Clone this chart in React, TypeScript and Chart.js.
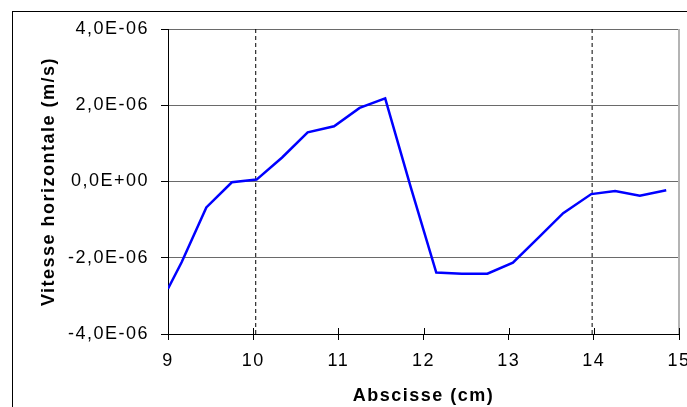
import React, { useEffect, useRef } from "react";
import { Chart, registerables } from "chart.js";

Chart.register(...registerables);

// Abscissa (cm)
const abscisses = [9.0, 9.16, 9.45, 9.75, 10.04, 10.34, 10.64, 10.95, 11.25, 11.55, 11.85, 12.15, 12.45, 12.75, 13.05, 13.35, 13.64, 13.97, 14.25, 14.54, 14.85];
// Horizontal speed (m/s)
const vitesses = [-2.81e-6, -2.12e-6, -0.68e-6, -0.02e-6, 0.05e-6, 0.63e-6, 1.29e-6, 1.45e-6, 1.93e-6, 2.18e-6, -0.15e-6, -2.39e-6, -2.42e-6, -2.42e-6, -2.13e-6, -1.47e-6, -0.83e-6, -0.33e-6, -0.25e-6, -0.37e-6, -0.23e-6];
// Dashed vertical markers (cm)
const reperes = [10.03, 13.98];
// Axis ranges
const xMin = 9, xMax = 15, xStep = 1;
const yMin = -4e-6, yMax = 4e-6, yStep = 2e-6;

const FONT = "Arial, 'Liberation Sans', sans-serif";
const SPACING = "1.5px";

function fmtSci(v: number): string {
  if (Math.abs(v) < 1e-12) return "0,0E+00";
  const exp = Math.floor(Math.log10(Math.abs(v)) + 1e-9);
  const mant = v / Math.pow(10, exp);
  const sign = exp < 0 ? "-" : "+";
  const e = String(Math.abs(exp)).padStart(2, "0");
  return mant.toFixed(1).replace(".", ",") + "E" + sign + e;
}

const decorPlugin = {
  id: "decor",
  beforeUpdate(chart: any) {
    chart.ctx.letterSpacing = SPACING;
  },
  beforeDraw(chart: any) {
    const ctx = chart.ctx;
    ctx.letterSpacing = SPACING;
    ctx.save();
    ctx.strokeStyle = "#000";
    ctx.lineWidth = 1;
    ctx.strokeRect(12.5, 11.5, 800, 600);
    ctx.restore();
  },
  beforeDatasetsDraw(chart: any) {
    const { ctx, chartArea } = chart;
    ctx.save();
    ctx.strokeStyle = "#b4b4b4";
    ctx.lineWidth = 2;
    ctx.beginPath();
    ctx.moveTo(chartArea.right, chartArea.top);
    ctx.lineTo(chartArea.right, chartArea.bottom);
    ctx.stroke();
    const xs = chart.scales.x;
    ctx.strokeStyle = "#000";
    ctx.lineWidth = 1;
    ctx.beginPath();
    for (const t of xs.ticks) {
      const px = Math.round(xs.getPixelForValue(t.value)) + 0.5;
      ctx.moveTo(px, chartArea.bottom - 6);
      ctx.lineTo(px, chartArea.bottom);
    }
    ctx.stroke();
    ctx.restore();
  },
};

export default function App() {
  const ref = useRef<HTMLCanvasElement | null>(null);
  useEffect(() => {
    if (!ref.current) return;
    const main = abscisses.map((x, i) => ({ x, y: vitesses[i] }));
    const dashed = reperes.map((x) => ({
      label: "repere",
      data: [
        { x, y: yMin },
        { x, y: yMax },
      ],
      borderColor: "#000",
      borderWidth: 1,
      borderDash: [4, 3],
      pointRadius: 0,
      fill: false,
    }));
    const chart = new Chart(ref.current, {
      type: "line",
      data: {
        datasets: [
          {
            label: "Vitesse",
            data: main,
            borderColor: "#0000ff",
            borderWidth: 2.5,
            pointRadius: 0,
            tension: 0,
            fill: false,
          },
          ...dashed,
        ] as any,
      },
      options: {
        animation: false,
        responsive: false,
        events: [],
        layout: { padding: { top: 29, right: 8, left: 0, bottom: 0 } },
        plugins: { legend: { display: false }, tooltip: { enabled: false } },
        scales: {
          x: {
            type: "linear",
            min: xMin,
            max: xMax,
            afterFit(scale: any) {
              scale.height = 73;
              scale.paddingLeft = 0;
              scale.paddingRight = 0;
            },
            ticks: {
              stepSize: xStep,
              color: "#000",
              font: { family: FONT, size: 18 },
              padding: 10,
              maxRotation: 0,
            },
            grid: {
              drawOnChartArea: false,
              drawTicks: true,
              tickLength: 6,
              color: "#000",
            },
            border: { display: true, color: "#000", width: 1 },
            title: {
              display: true,
              text: "Abscisse (cm)",
              color: "#000",
              font: { family: FONT, size: 18, weight: "bold" },
              padding: { top: 0, bottom: 0 },
            },
          },
          y: {
            type: "linear",
            min: yMin,
            max: yMax,
            afterFit(scale: any) {
              scale.width = 168;
              scale.paddingTop = 0;
              scale.paddingBottom = 0;
            },
            ticks: {
              stepSize: yStep,
              color: "#000",
              font: { family: FONT, size: 18 },
              padding: 12,
              callback: (v: any) => fmtSci(Number(v)),
            },
            grid: {
              color: "#6a6a6a",
              lineWidth: 1,
              tickLength: 7,
              tickColor: "#000",
            },
            border: { display: true, color: "#000", width: 1 },
            title: {
              display: true,
              text: "Vitesse horizontale (m/s)",
              color: "#000",
              font: { family: FONT, size: 18, weight: "bold" },
              padding: { top: 38, bottom: 0 },
            },
          },
        },
      } as any,
      plugins: [decorPlugin],
    });
    return () => chart.destroy();
  }, []);
  return (
    <div style={{ position: "absolute", left: 0, top: 0, width: 687, height: 407, background: "#fff" }}>
      <canvas ref={ref} width={687} height={407} style={{ display: "block" }} />
    </div>
  );
}
